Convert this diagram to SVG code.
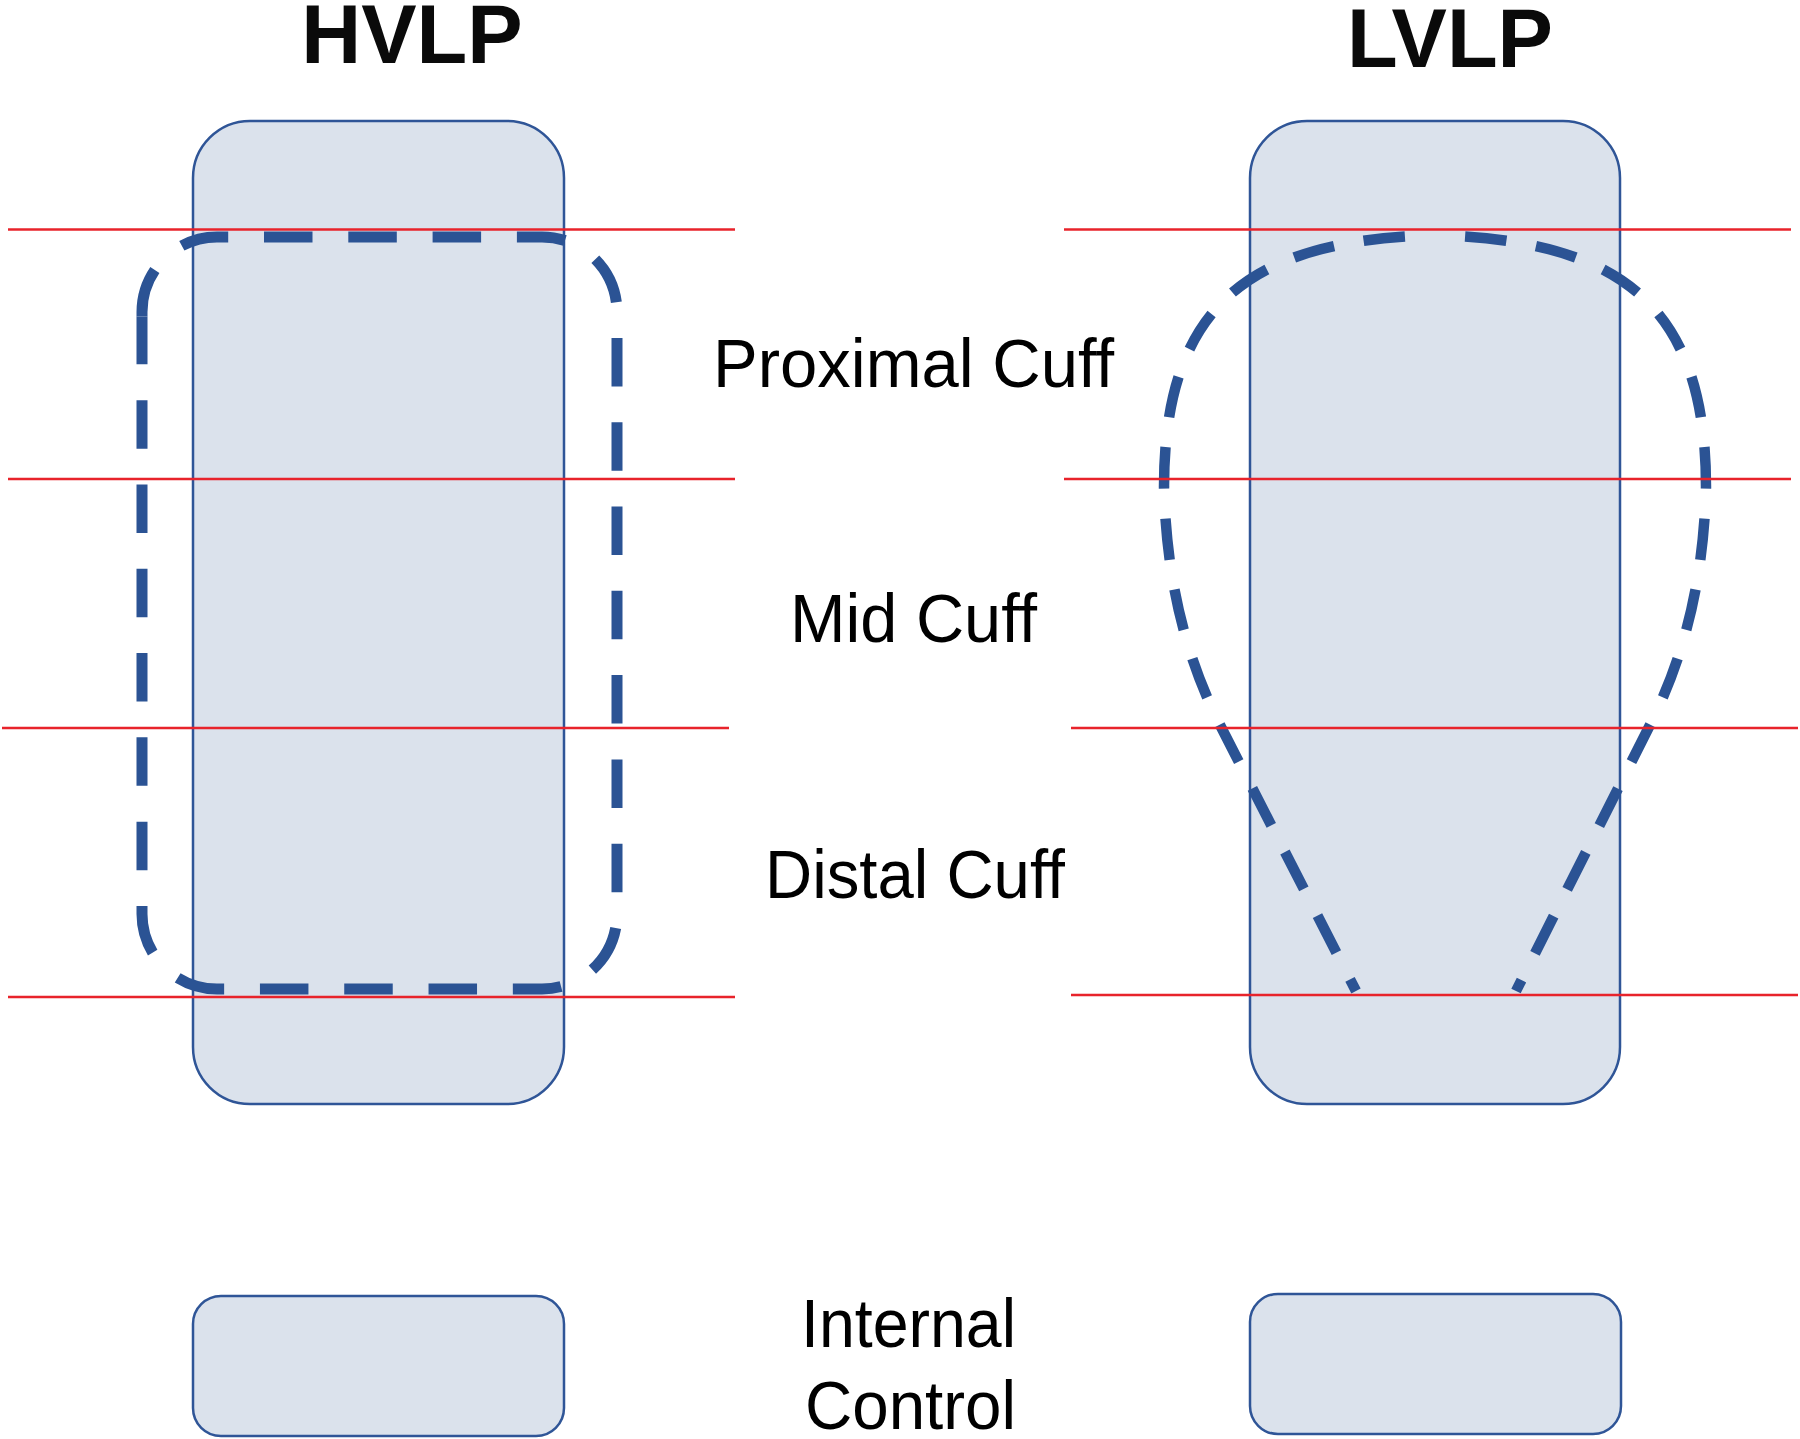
<svg xmlns="http://www.w3.org/2000/svg" width="1800" height="1439" viewBox="0 0 1800 1439">
<style>
.box{fill:#DBE2EC;stroke:#2F5597;stroke-width:2.5}
.dash{fill:none;stroke:#2B5394;stroke-linecap:butt}
.red{stroke:#E8232B;stroke-width:2.5}
.title{font-family:"Liberation Sans",Arial,sans-serif;font-weight:bold;font-size:83px;fill:#0A0A0A;text-anchor:middle}
.lab{font-family:"Liberation Sans",Arial,sans-serif;font-size:68px;fill:#000;text-anchor:middle}
</style>
<rect width="1800" height="1439" fill="#FFFFFF"/>
<g id="hvlp">
<text class="title" x="412" y="63">HVLP</text>
<rect class="box" x="193" y="121" width="371" height="983" rx="57" ry="57"/>
<path class="dash" stroke-width="11" stroke-dasharray="48.5 35.8" stroke-dashoffset="37.3" d="M217,237 H542 A75,75 0 0 1 617,312 V914 A75,75 0 0 1 542,989 H217 A75,75 0 0 1 142,914 V316.4"/>
<path class="dash" stroke-width="11" stroke-dasharray="48.9 36.5 40 0" d="M142,316.4 V312 A75,75 0 0 1 217,237"/>
</g>
<g id="lvlp">
<text class="title" x="1450" y="67">LVLP</text>
<rect class="box" x="1250" y="121" width="370" height="983" rx="57" ry="57"/>
<path class="dash" stroke-width="10.5" stroke-dasharray="41.5 30" stroke-dashoffset="41.5" d="M1435,235 C1250,240 1164,305 1164,487 C1166,565 1180,645 1219,723 L1356,991"/>
<path class="dash" stroke-width="10.5" stroke-dasharray="41.5 30" stroke-dashoffset="41.5" d="M1435,235 C1620,240 1706,305 1706,487 C1704,565 1690,645 1651,723 L1516,991"/>
</g>
<g id="cuff-lines">
<line class="red" x1="8" y1="229.5" x2="735" y2="229.5"/>
<line class="red" x1="8" y1="479" x2="735" y2="479"/>
<line class="red" x1="2" y1="728" x2="729" y2="728"/>
<line class="red" x1="8" y1="997" x2="735" y2="997"/>
<line class="red" x1="1064" y1="229.5" x2="1791" y2="229.5"/>
<line class="red" x1="1064" y1="479" x2="1791" y2="479"/>
<line class="red" x1="1071" y1="728" x2="1798" y2="728"/>
<line class="red" x1="1071" y1="995" x2="1798" y2="995"/>
</g>
<g id="labels">
<text class="lab" x="913.5" y="387" textLength="401" lengthAdjust="spacingAndGlyphs">Proximal Cuff</text>
<text class="lab" x="913.5" y="642" textLength="247" lengthAdjust="spacingAndGlyphs">Mid Cuff</text>
<text class="lab" x="915" y="898" textLength="300" lengthAdjust="spacingAndGlyphs">Distal Cuff</text>
<text class="lab" x="908.5" y="1347" textLength="215" lengthAdjust="spacingAndGlyphs">Internal</text>
<text class="lab" x="910.5" y="1429" textLength="211" lengthAdjust="spacingAndGlyphs">Control</text>
</g>
<g id="hvlp-control">
<rect class="box" x="193" y="1296" width="371" height="140" rx="28" ry="28"/>
</g>
<g id="lvlp-control">
<rect class="box" x="1250" y="1294" width="371" height="140" rx="28" ry="28"/>
</g>
</svg>
